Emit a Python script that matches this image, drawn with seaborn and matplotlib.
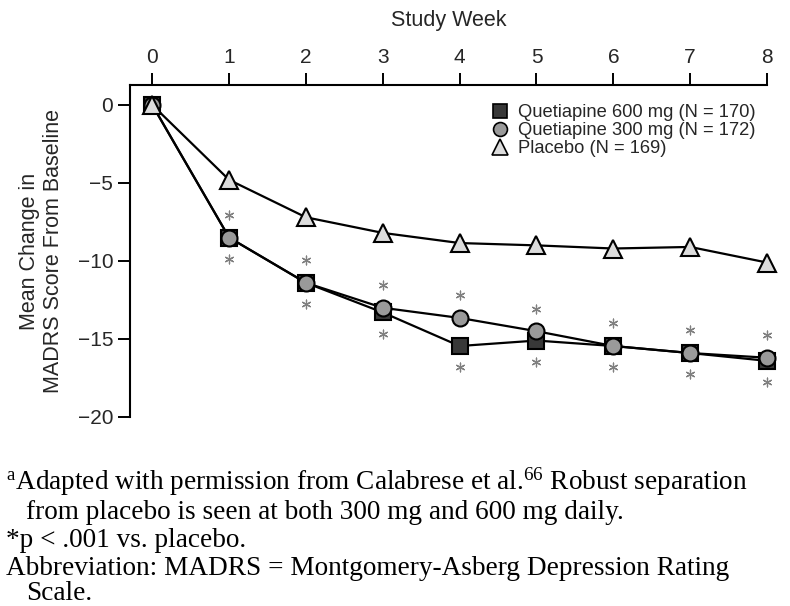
import matplotlib
matplotlib.use("Agg")
import matplotlib.pyplot as plt
from matplotlib.lines import Line2D
import seaborn as sns
import pandas as pd
import numpy as np

weeks = [0, 1, 2, 3, 4, 5, 6, 7, 8]
q600 = [0, -8.5, -11.4, -13.3, -15.45, -15.1, -15.45, -15.9, -16.4]
q300 = [0, -8.5, -11.4, -13.0, -13.65, -14.5, -15.45, -15.9, -16.2]
placebo = [0, -4.8, -7.2, -8.2, -8.85, -9.0, -9.2, -9.1, -10.1]
labels = ["Quetiapine 600 mg (N = 170)", "Quetiapine 300 mg (N = 172)", "Placebo (N = 169)"]
sig_weeks = [1, 2, 3, 4, 5, 6, 7, 8]
yticks = [0, -5, -10, -15, -20]

sns.set_theme(style="white")
plt.rcParams["font.family"] = ["Liberation Sans", "DejaVu Sans"]
plt.rcParams["mathtext.fontset"] = "custom"
plt.rcParams["mathtext.rm"] = "Liberation Serif"
plt.rcParams["mathtext.it"] = "Liberation Serif:italic"

fig = plt.figure(figsize=(7.9, 6.06), dpi=100)
ax = fig.add_axes([130/790, 1-417/606, (767-130)/790, (417-85)/606])

df = pd.DataFrame({"week": weeks, "q600": q600, "q300": q300, "placebo": placebo})

styles = [
    ("q600", "s", "#383838", 11),
    ("q300", "o", "#9a9a9a", 11.5),
    ("placebo", "^", "#dcdcdc", 13),
]
for col, m, fc, ms in styles:
    sns.lineplot(data=df, x="week", y=col, ax=ax, color="black", linewidth=1.6,
                 marker=m, markersize=ms, markerfacecolor=fc, markeredgecolor="black",
                 markeredgewidth=1.5, legend=False, clip_on=False)

# significance asterisks
top = np.maximum(np.array(q600), np.array(q300))
bot = np.minimum(np.array(q600), np.array(q300))
idx = [weeks.index(w) for w in sig_weeks]
sig_df = pd.DataFrame({
    "week": sig_weeks * 2,
    "y": list(top[idx] + 1.45) + list(bot[idx] - 1.35),
})
sns.scatterplot(data=sig_df, x="week", y="y", ax=ax, marker=(6, 2, 0), s=40,
                color="#808080", linewidth=0.9, edgecolor="#808080", legend=False, clip_on=False)

ax.set_xlim(-0.29, 8)
ax.set_ylim(-20, 1.28)
ax.set_xticks(weeks)
ax.set_yticks(yticks)
ax.set_yticklabels([str(t).replace("-", "\u2212") for t in yticks])
ax.xaxis.tick_top()
ax.xaxis.set_label_position("top")
ax.tick_params(axis="x", which="both", top=True, bottom=False, labeltop=True, labelbottom=False,
               length=9, width=1.4, labelsize=15, pad=4, color="black")
ax.tick_params(axis="y", left=True, length=9, width=1.4, labelsize=15, pad=3, color="black")
for s in ["right", "bottom"]:
    ax.spines[s].set_visible(False)
for s in ["left", "top"]:
    ax.spines[s].set_color("black")
    ax.spines[s].set_linewidth(1.5)
ax.set_xlabel("Study Week", fontsize=15.5, labelpad=16)
ax.set_ylabel("Mean Change in\nMADRS Score From Baseline", fontsize=15.5, labelpad=10, linespacing=1.2)

handles = [
    Line2D([], [], linestyle="none", marker="s", markersize=10, markerfacecolor="#383838", markeredgecolor="black", markeredgewidth=1.2),
    Line2D([], [], linestyle="none", marker="o", markersize=10, markerfacecolor="#9a9a9a", markeredgecolor="black", markeredgewidth=1.2),
    Line2D([], [], linestyle="none", marker="^", markersize=11, markerfacecolor="#dcdcdc", markeredgecolor="black", markeredgewidth=1.2),
]
ax.legend(handles, labels, loc="upper right", bbox_to_anchor=(1.0, 0.975), frameon=False,
          fontsize=13.2, handlelength=0.8, handletextpad=0.6, labelspacing=0.05, borderaxespad=0.2)

foot = dict(fontsize=19.6, family=["Liberation Serif", "DejaVu Serif"], color="black", va="baseline", ha="left")
fig.text(6/790, 1-490/606, r"$^{\mathrm{a}}$Adapted with permission from Calabrese et al.$^{66}$ Robust separation", **foot)
fig.text(26/790, 1-519/606, "from placebo is seen at both 300 mg and 600 mg daily.", **foot)
fig.text(6/790, 1-547/606, "*p < .001 vs. placebo.", **foot)
fig.text(6/790, 1-575/606, "Abbreviation: MADRS = Montgomery-Asberg Depression Rating", **foot)
fig.text(26/790, 1-600/606, "Scale.", **foot)

fig.savefig("out.png", dpi=100)
